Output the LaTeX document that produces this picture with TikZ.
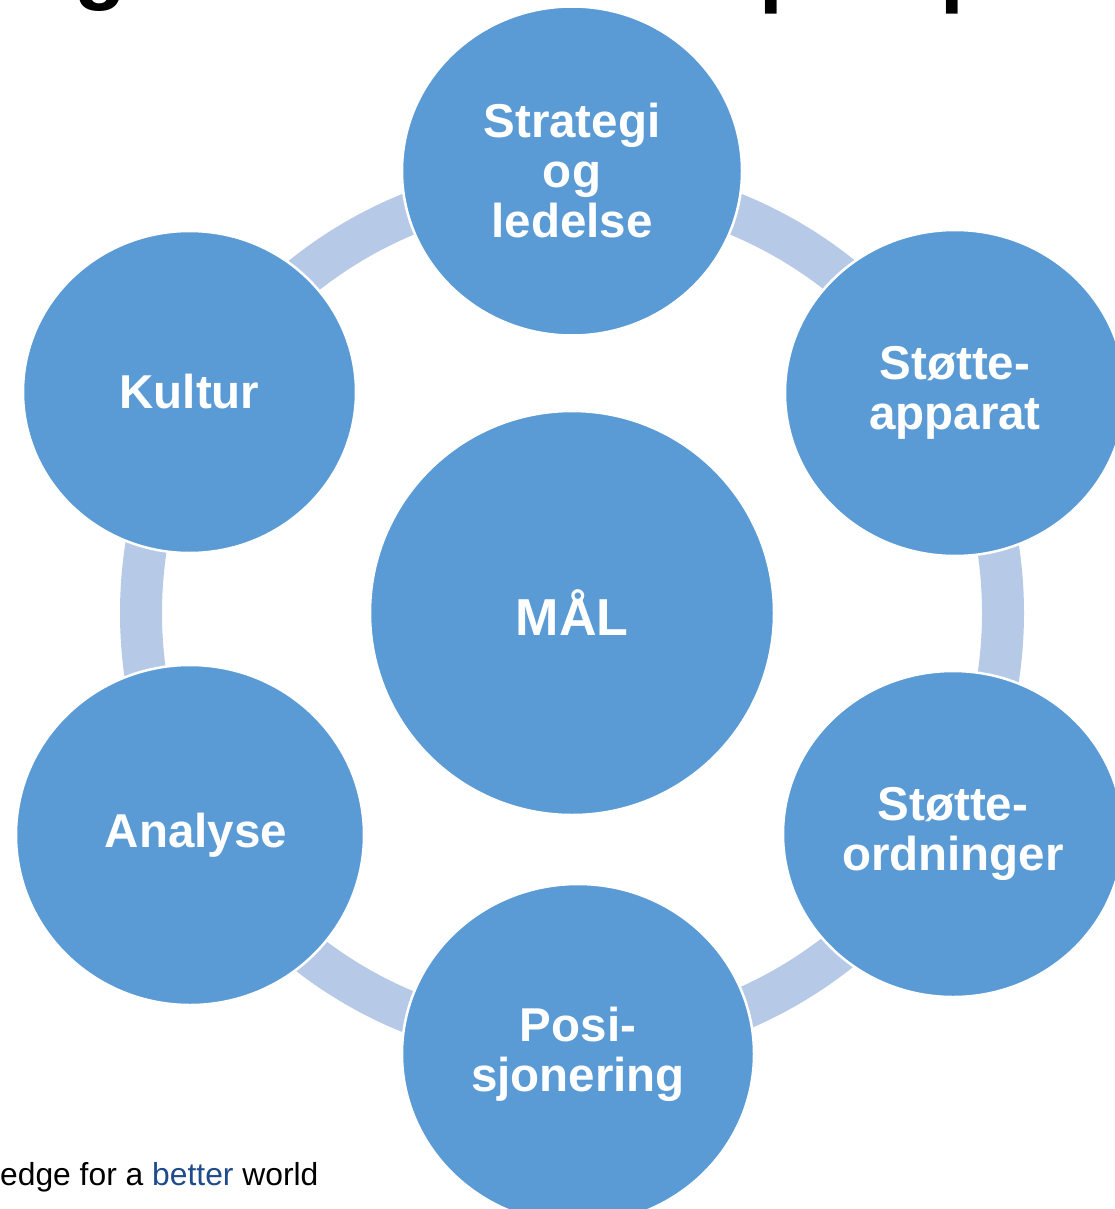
\documentclass[tikz,border=0pt]{standalone}
\usepackage{fontspec}
\setmainfont{Liberation Sans}
\usetikzlibrary{shapes.geometric}
\definecolor{circ}{HTML}{5B9BD5}
\definecolor{bandc}{HTML}{B6CAE8}
\definecolor{betterc}{HTML}{1F4A8C}
\begin{document}
\begin{tikzpicture}[x=1pt,y=-1pt,
  bub/.style={ellipse, fill=circ, draw=white, line width=2.5pt, inner sep=0pt,
    text=white, align=center, font=\bfseries\fontsize{47.5}{50}\selectfont},
  frag/.style={anchor=base west, inner sep=0pt, font=\bfseries\fontsize{85}{85}\selectfont},
  ring/.style={draw=bandc, line width=42pt}
]
\useasboundingbox (0,0) rectangle (1114,1209);
% title fragments cut by the top edge
\node[frag] (tg) at (74.6,-6) {g};
\node[frag] (tp1) at (759,-3) {p};
\node[frag] (tp2) at (940,-3) {p};
% ring band
\coordinate (ctr) at (572,613);
\draw[ring] (ctr) circle [radius=431pt];
% circles
\node[bub, minimum width=340pt, minimum height=329pt] (strat) at (572,171) {Strategi\\og\\ledelse};
\node[bub, minimum width=340pt, minimum height=326pt] (sapp) at (955,393) {Støtte-\\apparat};
\node[bub, minimum width=340pt, minimum height=326pt] (sord) at (953,834) {Støtte-\\ordninger};
\node[bub, minimum width=352pt, minimum height=340pt] (posi) at (578,1054) {Posi-\\sjonering};
\node[bub, minimum width=348pt, minimum height=340pt] (anal) at (190,835) {\hspace*{12pt}Analyse};
\node[bub, minimum width=333pt, minimum height=322pt] (kult) at (189.5,392) {Kultur};
\node[bub, minimum width=404pt, minimum height=404pt, font=\bfseries\fontsize{52}{56}\selectfont] (mal) at (ctr) {MÅL};
% footer
\node[anchor=base west, inner sep=0pt, font=\fontsize{31.8}{36}\selectfont] (foot) at (0,1185) {edge for a \textcolor{betterc}{better} world};
\end{tikzpicture}
\end{document}
